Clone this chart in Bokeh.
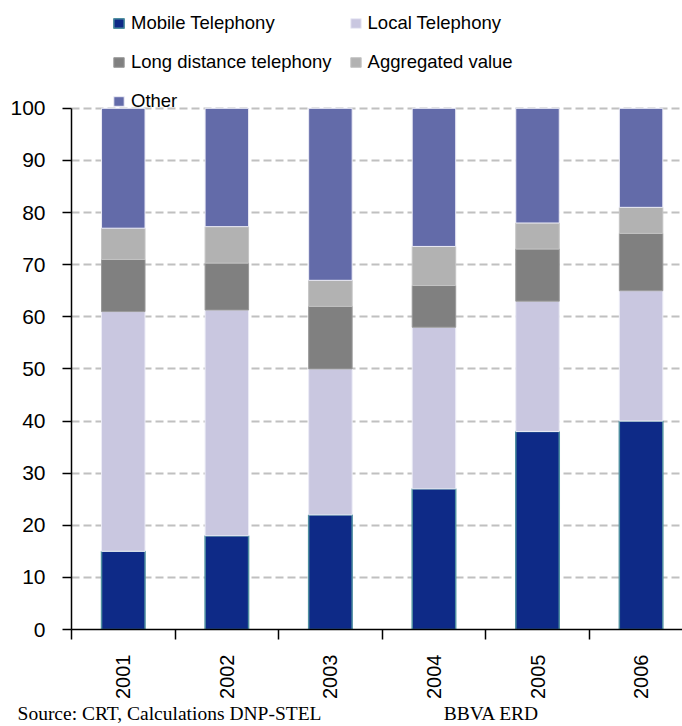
import math
from bokeh.plotting import figure
from bokeh.models import (FixedTicker, Legend, LegendItem, ColumnDataSource,
                          Range1d, LinearAxis)
from bokeh.embed import file_html
from bokeh.resources import INLINE

# ---- data -------------------------------------------------------------
years = ["2001", "2002", "2003", "2004", "2005", "2006"]
mobile = [15, 18, 22, 27, 38, 40]
local = [46, 43.3, 28, 31, 25, 25]
long_distance = [10, 9, 12, 8, 10, 11]
aggregated = [6, 7, 5, 7.5, 5, 5]
other = [23, 22.7, 33, 26.5, 22, 19]
series_names = ["Mobile Telephony", "Local Telephony", "Long distance telephony",
                "Aggregated value", "Other"]
y_ticks = list(range(0, 101, 10))
source_note = "Source: CRT, Calculations DNP-STEL"
credit_note = "BBVA ERD"

# ---- styling ----------------------------------------------------------
colors = ["#0e2a87", "#c9c7e0", "#808080", "#b2b2b2", "#636ba9"]
line_colors = ["#4f8fa0", "#ececf6", "#9a9a9a", "#c4c4c4", "#ececf6"]
keys = ["mobile", "local", "ld", "agg", "other"]

W, H = 682, 726
LEFT, BOTTOM = 71, 96
PLOT_PX = 522              # pixel height of the 0..100 span
frame_h = H - BOTTOM       # frame reaches the top so the legend is drawn inside it
y_top = y_ticks[-1] * frame_h / PLOT_PX

xs = list(range(len(years)))
src = ColumnDataSource(dict(x=xs, mobile=mobile, local=local, ld=long_distance,
                            agg=aggregated, other=other))

p = figure(width=W, height=H, output_backend="svg", toolbar_location=None,
           x_range=Range1d(-0.5, 5.40), y_range=Range1d(0, y_top))
p.min_border_left = LEFT
p.min_border_right = 0
p.min_border_top = 0
p.min_border_bottom = BOTTOM
p.outline_line_color = None
p.background_fill_color = "white"
p.border_fill_color = "white"

renderers = p.vbar_stack(keys, x="x", width=0.42, source=src,
                         fill_color=colors, line_color=line_colors,
                         line_width=[1.5, 1, 1, 1, 1])

# x axis: year labels under bars, tick marks between categories
p.xaxis.ticker = FixedTicker(ticks=xs, minor_ticks=[i - 0.5 for i in range(len(years) + 1)])
p.xaxis.major_label_overrides = {i: y for i, y in enumerate(years)}
p.xaxis.major_label_orientation = math.pi / 2
p.xaxis.major_tick_line_color = None
p.xaxis.major_tick_out = 10
p.xaxis.major_tick_in = 0
p.xaxis.minor_tick_out = 10
p.xaxis.minor_tick_in = 0
p.xaxis.minor_tick_line_color = "black"
p.xaxis.minor_tick_line_width = 1.5
p.xaxis.major_label_standoff = 15
p.xaxis.axis_line_width = 1.5
p.xaxis.axis_line_color = "black"

p.yaxis.ticker = FixedTicker(ticks=y_ticks)
p.yaxis.bounds = (y_ticks[0], y_ticks[-1])
p.yaxis.major_tick_out = 9
p.yaxis.major_tick_in = 0
p.yaxis.major_tick_line_width = 1.5
p.yaxis.major_tick_line_color = "black"
p.yaxis.minor_tick_line_color = None
p.yaxis.major_label_standoff = 17
p.yaxis.axis_line_width = 1.5
p.yaxis.axis_line_color = "black"

p.xaxis.major_label_text_font_size = "20px"
p.yaxis.major_label_text_font_size = "21px"
for ax in (p.xaxis, p.yaxis):
    ax.major_label_text_font = "Liberation Sans"
    ax.major_label_text_color = "black"

p.xgrid.grid_line_color = None
p.ygrid.grid_line_color = "#c0c0c0"
p.ygrid.grid_line_width = 2
p.ygrid.grid_line_dash = "8 4"

# footer notes as a second, line-less axis below the year axis
p.extra_x_ranges = {"note": Range1d(LEFT, W)}
note_pos = [169, 491]
note_axis = LinearAxis(x_range_name="note", ticker=FixedTicker(ticks=note_pos),
                       major_label_overrides={note_pos[0]: source_note, note_pos[1]: credit_note},
                       axis_line_color=None, major_tick_line_color=None, minor_tick_line_color=None,
                       major_tick_out=0, major_tick_in=0, major_label_standoff=1,
                       major_label_text_font="Liberation Serif", major_label_text_font_size="19.5px",
                       major_label_text_color="black")
p.add_layout(note_axis, "below")

legend = Legend(items=[LegendItem(label=n, renderers=[r]) for n, r in zip(series_names, renderers)],
                orientation="horizontal", ncols=2, location=(41, 517),
                label_text_font="Liberation Sans", label_text_font_size="18.5px",
                label_text_color="black",
                glyph_width=13, glyph_height=12, label_standoff=6, spacing=17,
                padding=0, margin=0, border_line_color=None, background_fill_alpha=0)
p.add_layout(legend, "center")

open("out.html", "w").write(file_html(p, INLINE))
